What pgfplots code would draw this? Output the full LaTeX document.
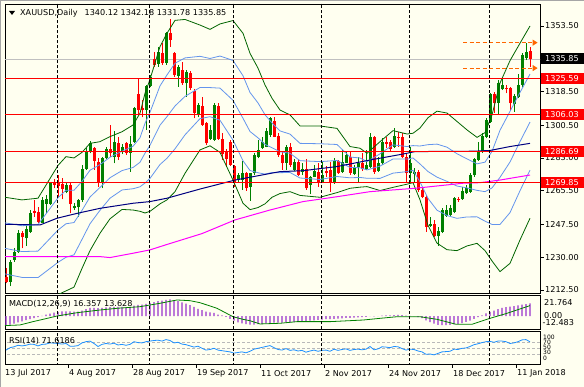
\documentclass[border=0pt]{standalone}
\usepackage{fontspec}
\setmainfont{DejaVu Sans}
\usepackage{pgfplots}
\pgfplotsset{compat=1.18}
\usepackage{pgfplotstable}
\usetikzlibrary{arrows.meta}

\definecolor{bg}{RGB}{255,255,240}
\definecolor{cgreen}{RGB}{0,128,0}
\definecolor{cred}{RGB}{255,0,0}
\definecolor{bbgreen}{RGB}{0,100,0}
\definecolor{bbblue}{RGB}{100,149,237}
\definecolor{mnavy}{RGB}{0,0,128}
\definecolor{mmag}{RGB}{255,0,255}
\definecolor{macdc}{RGB}{153,50,204}
\definecolor{rsic}{RGB}{30,144,255}
\definecolor{orng}{RGB}{255,102,0}
\definecolor{pline}{RGB}{192,192,192}

\newcommand\tf{\fontsize{8.1}{9}\selectfont}
\newcommand\smallf{\fontsize{6}{7}\selectfont}

\pgfplotstableread{
i o h l c
0 1219.6 1224.1 1216.05 1216.9
1 1216.9 1228.5 1214.6 1227.6
2 1228.5 1234.75 1227.6 1233.0
3 1233.0 1244.5 1232.4 1242.8
4 1242.8 1244.2 1234.75 1240.6
5 1240.1 1247.7 1236.0 1244.9
6 1243.65 1255.2 1242.8 1253.4
7 1254.9 1260.6 1251.7 1253.8
8 1254.3 1257.0 1248.5 1249.0
9 1248.5 1262.3 1248.2 1260.6
10 1258.4 1263.2 1253.4 1260.9
11 1258.4 1269.8 1257.9 1269.5
12 1269.8 1271.6 1266.8 1268.75
13 1269.5 1273.9 1262.3 1268.0
14 1268.9 1272.1 1260.9 1266.3
15 1265.0 1269.8 1264.1 1268.6
16 1268.6 1269.8 1253.4 1258.4
17 1256.1 1259.1 1255.2 1257.4
18 1256.65 1260.9 1251.7 1260.6
19 1260.6 1279.3 1259.7 1276.95
20 1276.95 1288.2 1276.6 1286.4
21 1286.4 1292.3 1285.5 1291.2
22 1288.2 1289.05 1276.6 1281.6
23 1281.0 1282.8 1267.7 1270.4
24 1270.4 1283.7 1266.8 1282.8
25 1282.8 1289.05 1282.3 1287.6
26 1288.0 1300.6 1283.7 1285.85
27 1283.4 1297.4 1280.15 1291.7
28 1290.8 1294.4 1281.9 1283.7
29 1286.4 1290.5 1285.1 1289.05
30 1290.8 1291.7 1284.6 1285.5
31 1285.85 1294.75 1275.7 1290.5
32 1291.7 1310.4 1291.2 1309.5
33 1317.2 1325.6 1306.0 1308.6
34 1309.5 1314.0 1304.7 1308.6
35 1308.6 1322.0 1297.96 1321.5
36 1321.5 1327.3 1320.75 1326.1
37 1335.7 1339.8 1331.8 1332.7
38 1333.2 1342.5 1331.8 1339.8
39 1338.9 1344.3 1332.7 1333.6
40 1333.6 1350.5 1332.7 1349.6
41 1349.6 1357.1 1342.5 1346.0
42 1338.9 1339.8 1326.4 1327.3
43 1326.8 1332.7 1321.1 1331.8
44 1330.0 1334.5 1322.0 1322.9
45 1322.9 1330.0 1315.8 1329.1
46 1328.6 1329.65 1319.3 1320.2
47 1319.0 1319.7 1304.2 1306.9
48 1306.0 1312.2 1304.7 1311.3
49 1310.8 1315.8 1300.1 1300.6
50 1301.5 1302.4 1289.9 1290.8
51 1293.0 1300.6 1292.6 1297.96
52 1292.6 1312.2 1292.3 1311.3
53 1310.8 1312.2 1292.6 1293.0
54 1293.0 1296.2 1281.9 1285.1
55 1286.9 1287.6 1278.4 1282.3
56 1291.7 1292.6 1278.7 1279.3
57 1278.7 1279.3 1267.7 1270.4
58 1271.25 1274.8 1270.4 1273.9
59 1271.25 1281.6 1265.9 1274.8
60 1274.8 1275.7 1265.55 1266.8
61 1267.7 1275.2 1260.2 1274.8
62 1274.8 1285.5 1273.9 1284.6
63 1283.7 1292.6 1282.8 1287.3
64 1288.2 1294.4 1287.6 1291.7
65 1289.05 1298.85 1288.7 1297.4
66 1295.3 1305.1 1294.4 1304.2
67 1302.9 1305.1 1294.0 1294.4
68 1294.75 1296.5 1283.7 1284.6
69 1284.6 1286.4 1276.6 1280.15
70 1280.5 1289.9 1276.6 1289.05
71 1289.05 1290.8 1278.4 1279.3
72 1276.6 1282.3 1276.2 1281.0
73 1281.0 1282.3 1273.4 1273.9
74 1275.7 1280.15 1273.9 1276.95
75 1276.95 1282.3 1265.9 1266.8
76 1268.6 1273.4 1263.6 1273.0
77 1273.0 1279.3 1272.7 1276.1
78 1275.7 1280.15 1267.7 1270.4
79 1270.4 1281.0 1269.5 1273.9
80 1276.2 1278.7 1273.0 1274.8
81 1276.6 1281.0 1265.0 1269.5
82 1269.5 1282.8 1269.1 1281.2
83 1281.2 1281.9 1274.45 1274.8
84 1275.7 1287.3 1275.2 1281.0
85 1280.5 1286.9 1280.15 1284.6
86 1283.7 1286.4 1273.9 1275.2
87 1274.45 1279.3 1273.9 1278.4
88 1278.4 1283.7 1270.4 1280.15
89 1280.15 1285.5 1276.2 1276.95
90 1277.3 1287.3 1276.6 1279.1
91 1278.4 1296.5 1277.5 1294.0
92 1294.0 1294.75 1274.45 1275.7
93 1276.2 1283.7 1275.7 1280.15
94 1280.15 1293.5 1279.3 1291.7
95 1291.7 1294.0 1288.2 1290.5
96 1291.7 1292.6 1286.4 1287.6
97 1289.05 1298.85 1288.2 1294.75
98 1294.4 1297.1 1289.05 1294.0
99 1294.0 1296.2 1282.8 1283.7
100 1283.7 1285.1 1269.8 1274.8
101 1274.8 1289.05 1269.8 1280.5
102 1274.45 1277.5 1270.4 1275.7
103 1275.7 1276.6 1265.0 1265.9
104 1265.9 1267.7 1261.45 1262.3
105 1262.3 1263.2 1243.65 1246.3
106 1246.7 1251.7 1246.3 1247.7
107 1247.7 1249.9 1240.6 1241.3
108 1241.3 1246.3 1236.0 1244.2
109 1243.65 1256.1 1242.8 1255.2
110 1252.0 1257.9 1251.7 1255.2
111 1252.55 1257.9 1252.0 1256.1
112 1254.3 1262.3 1253.4 1261.45
113 1261.3 1262.3 1259.7 1260.6
114 1260.9 1267.7 1260.6 1265.55
115 1264.1 1268.6 1263.8 1266.8
116 1265.0 1274.8 1264.5 1273.9
117 1273.9 1282.8 1273.0 1282.3
118 1281.9 1291.7 1281.6 1286.4
119 1286.4 1296.2 1285.85 1294.75
120 1294.4 1304.2 1293.5 1303.3
121 1302.4 1317.9 1301.9 1317.2
122 1317.2 1318.4 1306.9 1312.6
123 1312.6 1324.7 1306.0 1322.9
124 1319.7 1325.6 1319.3 1322.0
125 1320.2 1322.0 1317.5 1319.7
126 1320.2 1321.1 1308.6 1312.2
127 1311.85 1317.2 1307.75 1316.1
128 1315.8 1327.9 1314.9 1322.0
129 1322.0 1338.9 1321.1 1338.0
130 1336.2 1344.6 1335.3 1339.8
131 1340.12 1342.18 1331.78 1335.85
}\ohlc

\pgfplotstableread{
i u bu m bl lo
-0.25 1262.0 1248.35 1234.7 1221.05 1207.4
4 1260.6 1246.8 1233.0 1219.2 1205.4
8 1261.5 1247.4 1233.25 1219.1 1205.0
11 1272.0 1256.0 1240.0 1224.0 1208.0
13 1279.0 1261.75 1244.5 1227.25 1210.0
15 1283.7 1265.75 1247.85 1229.95 1212.0
17 1283.0 1265.75 1248.5 1231.25 1214.0
19 1286.0 1270.5 1255.0 1239.5 1224.0
21 1290.8 1276.45 1262.15 1247.85 1233.5
23.5 1291.7 1279.45 1267.25 1255.05 1242.8
26 1294.4 1283.4 1272.45 1261.5 1250.5
29 1297.0 1286.6 1276.25 1265.9 1255.5
31.75 1300.6 1289.25 1277.9 1266.55 1255.2
33.5 1306.9 1293.8 1280.7 1267.6 1254.5
34.75 1317.5 1301.5 1285.55 1269.6 1253.6
36 1325.0 1307.4 1289.75 1272.1 1254.5
38.5 1342.5 1321.5 1300.5 1279.5 1258.5
40.25 1349.6 1327.35 1305.1 1282.85 1260.6
42.25 1356.5 1333.6 1310.75 1287.9 1265.0
44.75 1357.0 1336.45 1315.9 1295.35 1274.8
48.5 1354.0 1337.3 1320.65 1304.0 1287.3
51 1351.7 1336.15 1320.6 1305.05 1289.5
53.5 1354.6 1337.45 1320.3 1303.15 1286.0
56.75 1356.4 1335.1 1313.8 1292.5 1271.2
59.25 1349.6 1326.9 1304.2 1281.5 1258.8
61 1338.9 1318.0 1297.15 1276.3 1255.4
63 1331.0 1312.4 1293.75 1275.1 1256.5
64.75 1322.0 1306.1 1290.25 1274.4 1258.5
66.5 1314.9 1301.7 1288.45 1275.2 1262.0
68.5 1308.6 1297.45 1286.3 1275.15 1264.0
71 1306.0 1295.75 1285.5 1275.25 1265.0
73.5 1300.1 1290.8 1281.55 1272.3 1263.0
78.5 1300.1 1290.6 1281.05 1271.5 1262.0
82.75 1298.8 1290.2 1281.65 1273.1 1264.5
86 1289.1 1283.5 1277.95 1272.4 1266.8
88.5 1288.2 1283.0 1277.8 1272.6 1267.4
90.25 1285.5 1281.05 1276.6 1272.15 1267.7
93.5 1291.7 1285.2 1278.65 1272.1 1265.6
96.75 1297.6 1290.0 1282.45 1274.9 1267.3
100.25 1295.8 1289.1 1282.4 1275.7 1269.0
101.75 1296.2 1289.6 1283.0 1276.4 1269.8
103.5 1299.0 1289.4 1279.8 1270.2 1260.6
105.5 1304.5 1290.1 1275.75 1261.4 1247.0
107.75 1308.0 1290.4 1272.75 1255.1 1237.5
110.25 1307.0 1288.75 1270.5 1252.25 1234.0
112.75 1302.5 1285.25 1268.0 1250.75 1233.5
115.25 1298.0 1282.5 1267.0 1251.5 1236.0
117.75 1294.0 1279.85 1265.7 1251.55 1237.4
119.75 1296.5 1280.75 1265.0 1249.25 1233.5
121.5 1306.0 1286.5 1267.0 1247.5 1228.0
123.5 1323.0 1297.8 1272.65 1247.5 1222.3
126 1335.0 1307.9 1280.85 1253.8 1226.7
128.5 1344.3 1318.0 1291.75 1265.5 1239.2
131 1353.5 1327.8 1302.15 1276.5 1250.8
}\bb

\pgfplotstableread{
i v
0 -12.2
1 -11
2 -9.8
3 -8.3
4 -6.8
5 -5.3
6 -4
7 -2.5
8 -1.2
9 0.3
10 1.8
11 3.3
12 4.5
13 5.4
14 6
15 6.2
16 6
17 5.8
18 5.8
19 7.2
20 9
21 10.5
22 10.8
23 10.3
24 10.8
25 11.4
26 11.5
27 12
28 11.8
29 11.8
30 11.4
31 11.5
32 13.5
33 14.5
34 14.8
35 15.8
36 17
37 18.2
38 19.3
39 20
40 21
41 21.76
42 20.8
43 19.5
44 17.8
45 16.2
46 14.2
47 11.8
48 9.5
49 7.8
50 5.8
51 4.8
52 4.3
53 2
54 0.8
55 -1
56 -3.5
57 -6
58 -8
59 -9.5
60 -10.5
61 -11
62 -11
63 -10.5
64 -10
65 -9.5
66 -9
67 -8.5
68 -8.5
69 -8.5
70 -8
71 -8
72 -7.5
73 -7
74 -6.5
75 -6.5
76 -6
77 -5.5
78 -5
79 -4.5
80 -4
81 -4
82 -3.5
83 -3.2
84 -2.8
85 -2.4
86 -2.2
87 -2
88 -1.6
89 -1.3
90 -1.1
91 0
92 -0.3
93 -0.2
94 0.5
95 0.9
96 1
97 1.4
98 1.6
99 1.2
100 0.5
101 0.3
102 0.1
103 -1.2
104 -2.6
105 -5.4
106 -7.8
107 -9.8
108 -11.3
109 -11.8
110 -11.8
111 -11.4
112 -10.8
113 -10
114 -9
115 -7.6
116 -5.8
117 -3.6
118 -1.4
119 1
120 3.4
121 5.6
122 7.2
123 9
124 10.5
125 11.5
126 12.2
127 13
128 13.8
129 14.8
130 15.6
131 16.357
}\macd

\pgfplotstableread{
i v
0 44
1 52
2 55
3 60
4 58
5 60
6 64
7 63
8 58
9 63
10 64
11 68
12 67
13 66
14 64
15 66
16 57
17 57
18 59
19 68
20 72
21 74
22 66
23 56
24 63
25 66
26 64
27 67
28 61
29 63
30 60
31 63
32 72
33 69
34 68
35 72
36 74
37 76
38 77
39 74
40 79
41 76
42 68
43 70
44 64
45 62
46 58
47 54
48 57
49 50
50 44
51 46
52 50
53 44
54 42
55 40
56 38
57 34
58 36
59 38
60 35
61 40
62 47
63 50
64 53
65 56
66 59
67 52
68 46
69 44
70 49
71 43
72 45
73 41
74 43
75 37
76 41
77 44
78 40
79 43
80 44
81 40
82 47
83 43
84 46
85 48
86 43
87 46
88 47
89 45
90 47
91 56
92 45
93 48
94 55
95 54
96 52
97 56
98 55
99 49
100 44
101 47
102 46
103 41
104 38
105 30
106 31
107 28
108 33
109 38
110 39
111 40
112 47
113 46
114 50
115 51
116 56
117 62
118 65
119 69
120 72
121 73
122 70
123 74
124 74
125 72
126 66
127 68
128 72
129 78
130 79
131 71.6
}\rsi

\pgfplotsset{
  panel/.style={scale only axis, width=535pt, xmin=-0.25, xmax=133.5,
    xtick=\empty, ytick=\empty, axis line style={black, line width=0.8pt},
    clip=true, anchor=south west},
  sep/.style={black, line width=0.8pt, dash pattern=on 3pt off 2pt},
  candle/.style n args={2}{draw=none, mark=none, forget plot,
    error bars/.cd, y dir=plus, y explicit, error mark=none,
    error bar style={draw=#1, line width=#2, solid}},
}

\begin{document}
\begin{tikzpicture}
\useasboundingbox (0pt,0pt) rectangle (584pt,387pt);
\fill[bg] (0pt,0pt) rectangle (584pt,387pt);
\draw[gray!70, line width=1pt] (0.5pt,0pt) -- (0.5pt,386.5pt) -- (584pt,386.5pt);

% ---------------- main price panel ----------------
\begin{axis}[panel, at={(5pt,93.7pt)}, height=289.3pt, ymin=1210.71, ymax=1365.25]
\addplot[pline, line width=0.8pt] coordinates {(-1,1335.85) (140,1335.85)};
% candles: wicks (low to high)
\addplot[restrict expr to domain={\thisrow{c}-\thisrow{o}}{0:1000}, candle={cgreen}{1pt}]
  table[x=i, y=l, y error plus expr={\thisrow{h}-\thisrow{l}}]{\ohlc};
\addplot[restrict expr to domain={\thisrow{c}-\thisrow{o}}{-1000:-0.0001}, candle={cred}{1pt}]
  table[x=i, y=l, y error plus expr={\thisrow{h}-\thisrow{l}}]{\ohlc};
% candles: bodies (open to close)
\addplot[restrict expr to domain={\thisrow{c}-\thisrow{o}}{0:1000}, candle={cgreen}{3pt}]
  table[x=i, y=o, y error plus expr={\thisrow{c}-\thisrow{o}}]{\ohlc};
\addplot[restrict expr to domain={\thisrow{c}-\thisrow{o}}{-1000:-0.0001}, candle={cred}{3pt}]
  table[x=i, y=c, y error plus expr={\thisrow{o}-\thisrow{c}}]{\ohlc};
% Bollinger bands
\addplot[bbgreen, line width=0.8pt] table[x=i, y=u]{\bb};
\addplot[bbgreen, line width=0.8pt] table[x=i, y=lo]{\bb};
\addplot[bbblue, line width=0.8pt] table[x=i, y=bu]{\bb};
\addplot[bbblue, line width=0.8pt] table[x=i, y=m]{\bb};
\addplot[bbblue, line width=0.8pt] table[x=i, y=bl]{\bb};
% moving averages
\addplot[mnavy, line width=1pt] coordinates {(-0.25,1247.6) (8.5,1247.2) (12.75,1250.8) (17.75,1253.4) (23.5,1256.1) (31.75,1258.8) (36,1259.7) (40.25,1261.5) (48.5,1266.4) (57.25,1271.2) (68.5,1275.7) (74.25,1276.2) (82.75,1278.4) (91,1281.9) (99.25,1285.1) (102.25,1286.4) (108.5,1286.5) (116.75,1286.6) (121,1287.0) (126,1289.1) (131,1290.8)};
\addplot[mmag, line width=1pt] coordinates {(-0.25,1230.3) (23.5,1230.3) (26,1229.8) (31.75,1232.1) (36,1233.9) (40.25,1236.8) (49,1242.6) (57.25,1249.9) (66,1255.2) (74.25,1259.7) (82.75,1262.3) (91,1265.0) (102.25,1266.8) (114.25,1269.5) (118.5,1269.8) (123.5,1271.2) (131,1273.9)};
% horizontal levels
\addplot[cred, line width=0.8pt] coordinates {(-1,1325.59) (140,1325.59)};
\addplot[cred, line width=0.8pt] coordinates {(-1,1306.03) (140,1306.03)};
\addplot[cred, line width=0.8pt] coordinates {(-1,1286.69) (140,1286.69)};
\addplot[cred, line width=0.8pt] coordinates {(-1,1269.85) (140,1269.85)};
% orange dashed arrows
\addplot[orng, line width=0.8pt, dash pattern=on 4pt off 2.5pt, -{Triangle[length=5pt,width=6pt]}] coordinates {(114.25,1344.6) (132.9,1344.6)};
\addplot[orng, line width=0.8pt, dash pattern=on 4pt off 2.5pt, -{Triangle[length=5pt,width=6pt]}] coordinates {(114.25,1331.0) (132.9,1331.0)};
% period separators
\addplot[sep] coordinates {(12.9,1200) (12.9,1400)};
\addplot[sep] coordinates {(35.75,1200) (35.75,1400)};
\addplot[sep] coordinates {(56.75,1200) (56.75,1400)};
\addplot[sep] coordinates {(78.9,1200) (78.9,1400)};
\addplot[sep] coordinates {(100.8,1200) (100.8,1400)};
\addplot[sep] coordinates {(120.8,1200) (120.8,1400)};
\end{axis}

% ---------------- MACD panel ----------------
\begin{axis}[panel, at={(5pt,58pt)}, height=33.7pt, ymin=-16.73, ymax=26.98]
\addplot[ybar, bar width=1.2pt, fill=macdc, draw=none] table[x=i, y=v]{\macd};
\addplot[cgreen, line width=0.8pt] coordinates {(-0.25,-12.3) (3.5,-11.5) (6.75,-7.2) (9.25,-4.2) (12.75,0.1) (17.75,4.4) (23.5,7.9) (27.75,10.1) (33.5,12.2) (38.5,16.6) (42.75,20.9) (46,20.0) (48.5,17.4) (52.75,10.1) (56.75,-0.8) (59.25,-4.2) (61,-6.0) (63.5,-10.2) (68.5,-9.3) (72.75,-7.2) (81,-7.2) (89.25,-5.1) (93.5,-2.9) (97.75,-0.8) (103.5,-0.8) (107.75,-4.2) (110,-7.2) (112.5,-10.6) (116.5,-10.6) (121,-2.9) (125.25,3.6) (131,13.63)};
\addplot[sep] coordinates {(12.9,-30) (12.9,40)};
\addplot[sep] coordinates {(35.75,-30) (35.75,40)};
\addplot[sep] coordinates {(56.75,-30) (56.75,40)};
\addplot[sep] coordinates {(78.9,-30) (78.9,40)};
\addplot[sep] coordinates {(100.8,-30) (100.8,40)};
\addplot[sep] coordinates {(120.8,-30) (120.8,40)};
\end{axis}

% ---------------- RSI panel ----------------
\begin{axis}[panel, at={(5pt,22.5pt)}, height=32.8pt, ymin=-4, ymax=105.3]
\addplot[gray!55, line width=0.8pt, dash pattern=on 3pt off 2pt] coordinates {(-1,70) (140,70)};
\addplot[gray!55, line width=0.8pt, dash pattern=on 3pt off 2pt] coordinates {(-1,50) (140,50)};
\addplot[gray!55, line width=0.8pt, dash pattern=on 3pt off 2pt] coordinates {(-1,30) (140,30)};
\addplot[rsic, line width=0.8pt] table[x=i, y=v]{\rsi};
\addplot[sep] coordinates {(12.9,-10) (12.9,120)};
\addplot[sep] coordinates {(35.75,-10) (35.75,120)};
\addplot[sep] coordinates {(56.75,-10) (56.75,120)};
\addplot[sep] coordinates {(78.9,-10) (78.9,120)};
\addplot[sep] coordinates {(100.8,-10) (100.8,120)};
\addplot[sep] coordinates {(120.8,-10) (120.8,120)};
\end{axis}

% ---------------- texts ----------------
\fill[black] (9pt,376pt) -- (15pt,376pt) -- (12pt,372pt) -- cycle;
\node[anchor=west, inner sep=0pt] at (20pt,374pt) {\tf XAUUSD,Daily\hspace{4.5pt} 1340.12 1342.18 1331.78 1335.85};
\node[anchor=west, inner sep=0pt] at (9pt,82.7pt) {\tf MACD(12,26,9) 16.357 13.628};
\node[anchor=west, inner sep=0pt] at (9pt,46.3pt) {\tf RSI(14) 71.6186};

% price scale ticks and labels
\foreach \yy in {361,295.5,261.8,229,196.3,162.6,129.8,97}{\draw[black, line width=0.8pt] (540pt,\yy pt) -- (543.5pt,\yy pt);}
\node[anchor=west, inner sep=0pt] at (545pt,361pt) {\tf 1353.50};
\node[anchor=west, inner sep=0pt] at (545pt,295.5pt) {\tf 1318.50};
\node[anchor=west, inner sep=0pt] at (545pt,261.8pt) {\tf 1300.50};
\node[anchor=west, inner sep=0pt] at (545pt,229pt) {\tf 1283.00};
\node[anchor=west, inner sep=0pt] at (545pt,196.3pt) {\tf 1265.50};
\node[anchor=west, inner sep=0pt] at (545pt,162.6pt) {\tf 1247.50};
\node[anchor=west, inner sep=0pt] at (545pt,129.8pt) {\tf 1230.00};
\node[anchor=west, inner sep=0pt] at (545pt,97pt) {\tf 1212.50};

\fill[black] (541pt,322.5pt) rectangle (584pt,333.5pt);
\node[anchor=west, inner sep=0pt, text=white] at (545pt,328pt) {\tf 1335.85};
\fill[cred] (541pt,303.25pt) rectangle (584pt,314.25pt);
\node[anchor=west, inner sep=0pt, text=white] at (545pt,308.75pt) {\tf 1325.59};
\fill[cred] (541pt,266.6pt) rectangle (584pt,277.6pt);
\node[anchor=west, inner sep=0pt, text=white] at (545pt,272.1pt) {\tf 1306.03};
\fill[cred] (541pt,230.4pt) rectangle (584pt,241.4pt);
\node[anchor=west, inner sep=0pt, text=white] at (545pt,235.9pt) {\tf 1286.69};
\fill[cred] (541pt,198.9pt) rectangle (584pt,209.9pt);
\node[anchor=west, inner sep=0pt, text=white] at (545pt,204.4pt) {\tf 1269.85};

% MACD scale
\node[anchor=west, inner sep=0pt] at (544pt,84.3pt) {\tf 21.764};
\node[anchor=west, inner sep=0pt] at (544pt,71.3pt) {\tf 0.00};
\node[anchor=west, inner sep=0pt] at (542.5pt,64.4pt) {\tf -12.483};

% RSI scale (tightly stacked, as in the original)
\node[anchor=west, inner sep=0pt] at (543pt,49.4pt) {\smallf 100};
\node[anchor=west, inner sep=0pt] at (543pt,44.2pt) {\smallf 70};
\node[anchor=west, inner sep=0pt] at (543pt,39.2pt) {\smallf 50};
\node[anchor=west, inner sep=0pt] at (543pt,34.2pt) {\smallf 30};
\node[anchor=west, inner sep=0pt] at (543pt,29.0pt) {\smallf 0};

% date axis
\foreach \xx in {68.5,132.5,196.5,260.5,324.5,388.5,452.5,516.5}{\draw[black, line width=0.8pt] (\xx pt,22.5pt) -- (\xx pt,18.5pt);}
\node[anchor=west, inner sep=0pt] at (5pt,13.7pt) {\tf 13 Jul 2017};
\node[anchor=west, inner sep=0pt] at (69pt,13.7pt) {\tf 4 Aug 2017};
\node[anchor=west, inner sep=0pt] at (133pt,13.7pt) {\tf 28 Aug 2017};
\node[anchor=west, inner sep=0pt] at (197pt,13.7pt) {\tf 19 Sep 2017};
\node[anchor=west, inner sep=0pt] at (261pt,13.7pt) {\tf 11 Oct 2017};
\node[anchor=west, inner sep=0pt] at (325pt,13.7pt) {\tf 2 Nov 2017};
\node[anchor=west, inner sep=0pt] at (389pt,13.7pt) {\tf 24 Nov 2017};
\node[anchor=west, inner sep=0pt] at (453pt,13.7pt) {\tf 18 Dec 2017};
\node[anchor=west, inner sep=0pt] at (517pt,13.7pt) {\tf 11 Jan 2018};
\end{tikzpicture}
\end{document}
